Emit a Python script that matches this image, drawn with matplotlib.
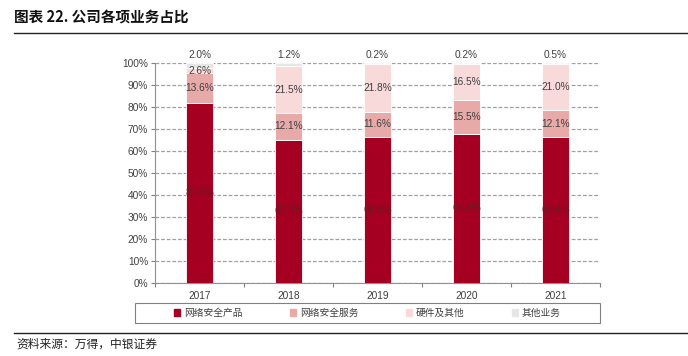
import numpy as np
import matplotlib.pyplot as plt
from matplotlib.lines import Line2D

plt.rcParams['font.family'] = ['Noto Sans CJK SC', 'DejaVu Sans']

# data
years = ['2017', '2018', '2019', '2020', '2021']
product = [81.8, 65.2, 66.4, 67.8, 66.4]    # 网络安全产品
service = [13.6, 12.1, 11.6, 15.5, 12.1]    # 网络安全服务
hardware = [2.6, 21.5, 21.8, 16.5, 21.0]    # 硬件及其他
other = [2.0, 1.2, 0.2, 0.2, 0.5]           # 其他业务
names = ['网络安全产品', '网络安全服务', '硬件及其他', '其他业务']
colors = ['#A50021', '#E8A9A9', '#F8DADA', '#E6E6E6']

fig = plt.figure(figsize=(6.88, 3.56), dpi=100)
ax = fig.add_axes([155 / 688, 1 - 282.7 / 356, 445 / 688, 219.4 / 356])

x = np.arange(len(years))
series = [product, service, hardware, other]
bottom = np.zeros(len(years))
for i, (vals, c) in enumerate(zip(series, colors)):
    vals = np.array(vals)
    ax.bar(x, vals, width=0.31, bottom=bottom, color=c, edgecolor='white',
           linewidth=0.6, label=names[i], zorder=3)
    for xi, v, b in zip(x, vals, bottom):
        if i == 3:
            ypos = 103.8
        else:
            ypos = b + v / 2
        tc = '#6A1A22' if i == 0 else '#404040'
        ax.text(xi, ypos, f'{v:.1f}%', ha='center', va='center', fontsize=7.3,
                color=tc, zorder=4, clip_on=False, family=['Liberation Sans', 'DejaVu Sans'])
    bottom += vals

ax.set_xlim(-0.5, 4.5)
ax.set_ylim(0, 100)
ax.set_yticks(np.arange(0, 101, 10))
ax.set_yticklabels([f'{v}%' for v in range(0, 101, 10)])
ax.set_xticks(x)
ax.set_xticklabels(years)
ax.set_xticks(np.arange(-0.5, 5, 1), minor=True)
ax.tick_params(axis='x', which='major', length=0, pad=6)
ax.tick_params(axis='x', which='minor', length=3, color='#808080', width=0.8)
ax.tick_params(axis='y', length=3, color='#808080', width=0.8, pad=2)
for lab in ax.get_xticklabels() + ax.get_yticklabels():
    lab.set_fontsize(7.3)
    lab.set_color('#404040')
    lab.set_family(['Liberation Sans', 'DejaVu Sans'])

ax.grid(axis='y', color='#A0A0A0', linestyle=(0, (3, 1.5)), linewidth=0.9, zorder=0)
for s in ['top', 'right']:
    ax.spines[s].set_visible(False)
for s in ['left', 'bottom']:
    ax.spines[s].set_color('#909090')
    ax.spines[s].set_linewidth(0.8)

# legend box drawn separately so entries can sit centred inside it
fig.add_artist(plt.Rectangle((135 / 688, 1 - 323.3 / 356), 465 / 688, 20.6 / 356,
                             transform=fig.transFigure, fill=False,
                             edgecolor='#808080', linewidth=0.8))
handles = [plt.Rectangle((0, 0), 1, 1, color=c) for c in colors]
leg = fig.legend(handles, names, loc='center', ncol=4,
                 bbox_to_anchor=(367.5 / 688, 1 - 313 / 356),
                 frameon=False, handlelength=0.6, handleheight=0.6,
                 handletextpad=0.4, columnspacing=4.9, fontsize=7,
                 borderaxespad=0)
for t in leg.get_texts():
    t.set_color('#404040')

# title and rules
fig.text(14 / 688, 1 - 18 / 356, '图表 22. 公司各项业务占比', fontsize=10.5,
         fontweight='bold', ha='left', va='center', color='#111111')
fig.add_artist(Line2D([14 / 688, 1], [1 - 33 / 356, 1 - 33 / 356], color='#222222', linewidth=1))
fig.add_artist(Line2D([14 / 688, 1], [1 - 332.5 / 356, 1 - 332.5 / 356], color='#222222', linewidth=1))
fig.text(16 / 688, 1 - 344 / 356, '资料来源：万得，中银证券', fontsize=8.5, style='italic',
         ha='left', va='center', color='#222222')

fig.savefig('out.png', dpi=100)
